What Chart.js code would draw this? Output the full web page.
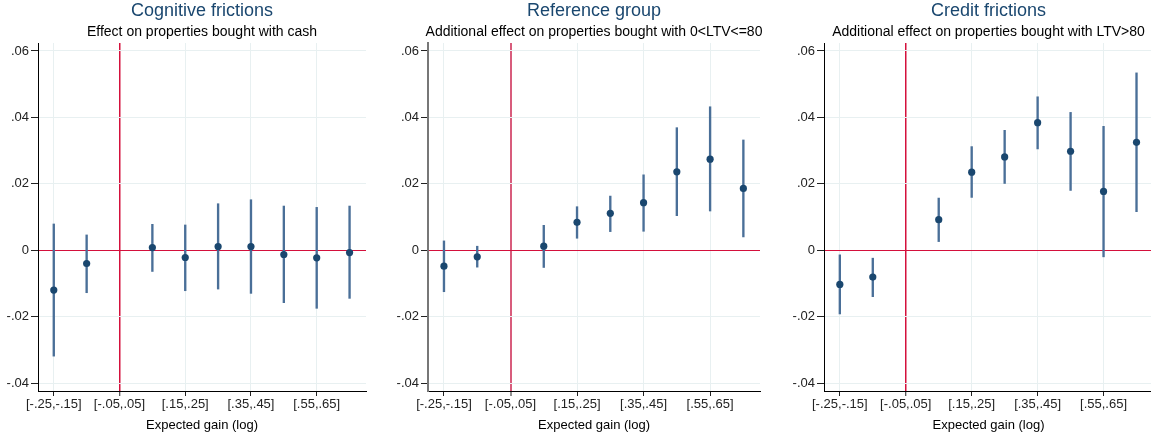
<!DOCTYPE html>
<html>
<head>
<meta charset="utf-8">
<script src="https://cdn.jsdelivr.net/npm/chart.js@4.4.1/dist/chart.umd.min.js"></script>
<style>
    body { margin: 0; background: #fff; width: 1151px; height: 439px; overflow: hidden; position: relative; }
    canvas { position: absolute; top: 0; }
</style>
</head>
<body>
<canvas id="chart1" width="404" height="439" style="left:0px"></canvas>
<canvas id="chart2" width="408" height="439" style="left:390px"></canvas>
<canvas id="chart3" width="405" height="439" style="left:786px"></canvas>
<script>
/* data */
const binIndex = [0, 1, 2, 3, 4, 5, 6, 7, 8, 9];
const binLabels = ['[-.25,-.15]', '[-.15,-.05]', '[-.05,.05]', '[.05,.15]', '[.15,.25]',
    '[.25,.35]', '[.35,.45]', '[.45,.55]', '[.55,.65]', '[.65,.75]'];
const xTickIdx = [0, 2, 4, 6, 8];
const yTicks = [-0.04, -0.02, 0, 0.02, 0.04, 0.06];
const yTickLabels = ['-.04', '-.02', '0', '.02', '.04', '.06'];

// cognitive frictions (cash)
const cogEst = [-0.0120, -0.0040, null, 0.0008, -0.0022, 0.0011, 0.0011, -0.0013, -0.0023, -0.0007];
const cogLo = [-0.0319, -0.0128, null, -0.0064, -0.0122, -0.0117, -0.0130, -0.0158, -0.0175, -0.0145];
const cogHi = [0.0079, 0.0046, null, 0.0078, 0.0076, 0.0140, 0.0152, 0.0133, 0.0129, 0.0133];

// reference group (0<LTV<=80)
const refEst = [-0.0048, -0.0020, null, 0.0012, 0.0084, 0.0111, 0.0143, 0.0236, 0.0274, 0.0186];
const refLo = [-0.0125, -0.0051, null, -0.0052, 0.0036, 0.0056, 0.0057, 0.0104, 0.0118, 0.0040];
const refHi = [0.0028, 0.0012, null, 0.0075, 0.0131, 0.0163, 0.0227, 0.0369, 0.0432, 0.0332];

// credit frictions (LTV>80)
const creEst = [-0.0103, -0.0081, null, 0.0092, 0.0235, 0.0281, 0.0384, 0.0298, 0.0177, 0.0325];
const creLo = [-0.0192, -0.0140, null, 0.0026, 0.0159, 0.0201, 0.0305, 0.0180, -0.0020, 0.0116];
const creHi = [-0.0014, -0.0024, null, 0.0157, 0.0312, 0.0361, 0.0462, 0.0415, 0.0373, 0.0534];

Chart.defaults.font.family = "'Liberation Sans', Arial, sans-serif";
Chart.defaults.animation = false;

const navy = '#1a476f';
const barBlue = '#4a6f98';
const gridCol = '#e8f0f1';
const refRed = '#d4103c';

function makePanel(id, title, subtitle, est, lo, hi, style) {
    const pts = binIndex.filter(i => est[i] !== null).map(i => ({x: i, y: est[i]}));
    const bars = binIndex.filter(i => lo[i] !== null).map(i => ({x: i, y: [lo[i], hi[i]]}));
    return new Chart(document.getElementById(id), {
        type: 'bar',
        data: {
            datasets: [{
                type: 'scatter',
                data: pts,
                backgroundColor: navy,
                borderColor: navy,
                pointRadius: 3.6,
                borderWidth: 0,
                order: 0
            }, {
                type: 'bar',
                data: bars,
                backgroundColor: barBlue,
                barThickness: 1.7,
                order: 1
            }]
        },
        options: {
            responsive: false,
            events: [],
            layout: { padding: 0 },
            plugins: {
                legend: { display: false },
                tooltip: { enabled: false },
                title: {
                    display: true,
                    text: title,
                    color: navy,
                    font: { size: 18, weight: 'normal' },
                    padding: { top: 0.5, bottom: 0 }
                },
                subtitle: {
                    display: true,
                    text: subtitle,
                    color: '#000',
                    font: { size: 14 },
                    padding: { top: 2, bottom: 2.1 }
                }
            },
            scales: {
                x: {
                    type: 'linear',
                    min: -0.48,
                    max: 9.5,
                    offset: false,
                    afterBuildTicks: s => { s.ticks = xTickIdx.map(v => ({value: v})); },
                    afterFit: s => { s.height = 48; },
                    ticks: {
                        color: '#222',
                        font: { size: 13 },
                        padding: 1,
                        maxRotation: 0,
                        autoSkip: false,
                        callback: v => binLabels[v]
                    },
                    grid: {
                        offset: false,
                        color: c => (c.tick && c.tick.value === 2) ? style.vline : gridCol,
                        lineWidth: c => (c.tick && c.tick.value === 2) ? style.vwidth : 1,
                        tickColor: '#222',
                        tickWidth: 1,
                        tickLength: 5
                    },
                    border: { display: true, color: '#000', width: 1 },
                    title: {
                        display: true,
                        text: 'Expected gain (log)',
                        color: '#000',
                        font: { size: 13 },
                        padding: { top: 0, bottom: 6 }
                    }
                },
                y: {
                    type: 'linear',
                    min: -0.0424,
                    max: 0.0624,
                    afterBuildTicks: s => { s.ticks = yTicks.map(v => ({value: v})); },
                    afterFit: s => { s.width = 38; },
                    ticks: {
                        color: '#222',
                        font: { size: 13 },
                        padding: 2,
                        callback: v => yTickLabels[yTicks.indexOf(v)]
                    },
                    grid: {
                        color: c => (c.tick && c.tick.value === 0) ? refRed : gridCol,
                        lineWidth: 1,
                        tickColor: '#222',
                        tickLength: 7
                    },
                    border: { display: true, color: style.axis, width: style.axisWidth }
                },
                // empty right box so the titles center on the plot area
                yPad: {
                    type: 'linear',
                    position: 'right',
                    afterFit: s => { s.width = 38; },
                    ticks: { display: false },
                    grid: { display: false },
                    border: { display: false }
                }
            }
        }
    });
}

const chart1 = makePanel('chart1', 'Cognitive frictions', 'Effect on properties bought with cash',
    cogEst, cogLo, cogHi, { vline: refRed, vwidth: 1.5, axis: '#000', axisWidth: 1 });
const chart2 = makePanel('chart2', 'Reference group', 'Additional effect on properties bought with 0<LTV<=80',
    refEst, refLo, refHi, { vline: '#d85c7c', vwidth: 2, axis: '#777', axisWidth: 2 });
const chart3 = makePanel('chart3', 'Credit frictions', 'Additional effect on properties bought with LTV>80',
    creEst, creLo, creHi, { vline: refRed, vwidth: 1.5, axis: '#000', axisWidth: 1 });
</script>
</body>
</html>
